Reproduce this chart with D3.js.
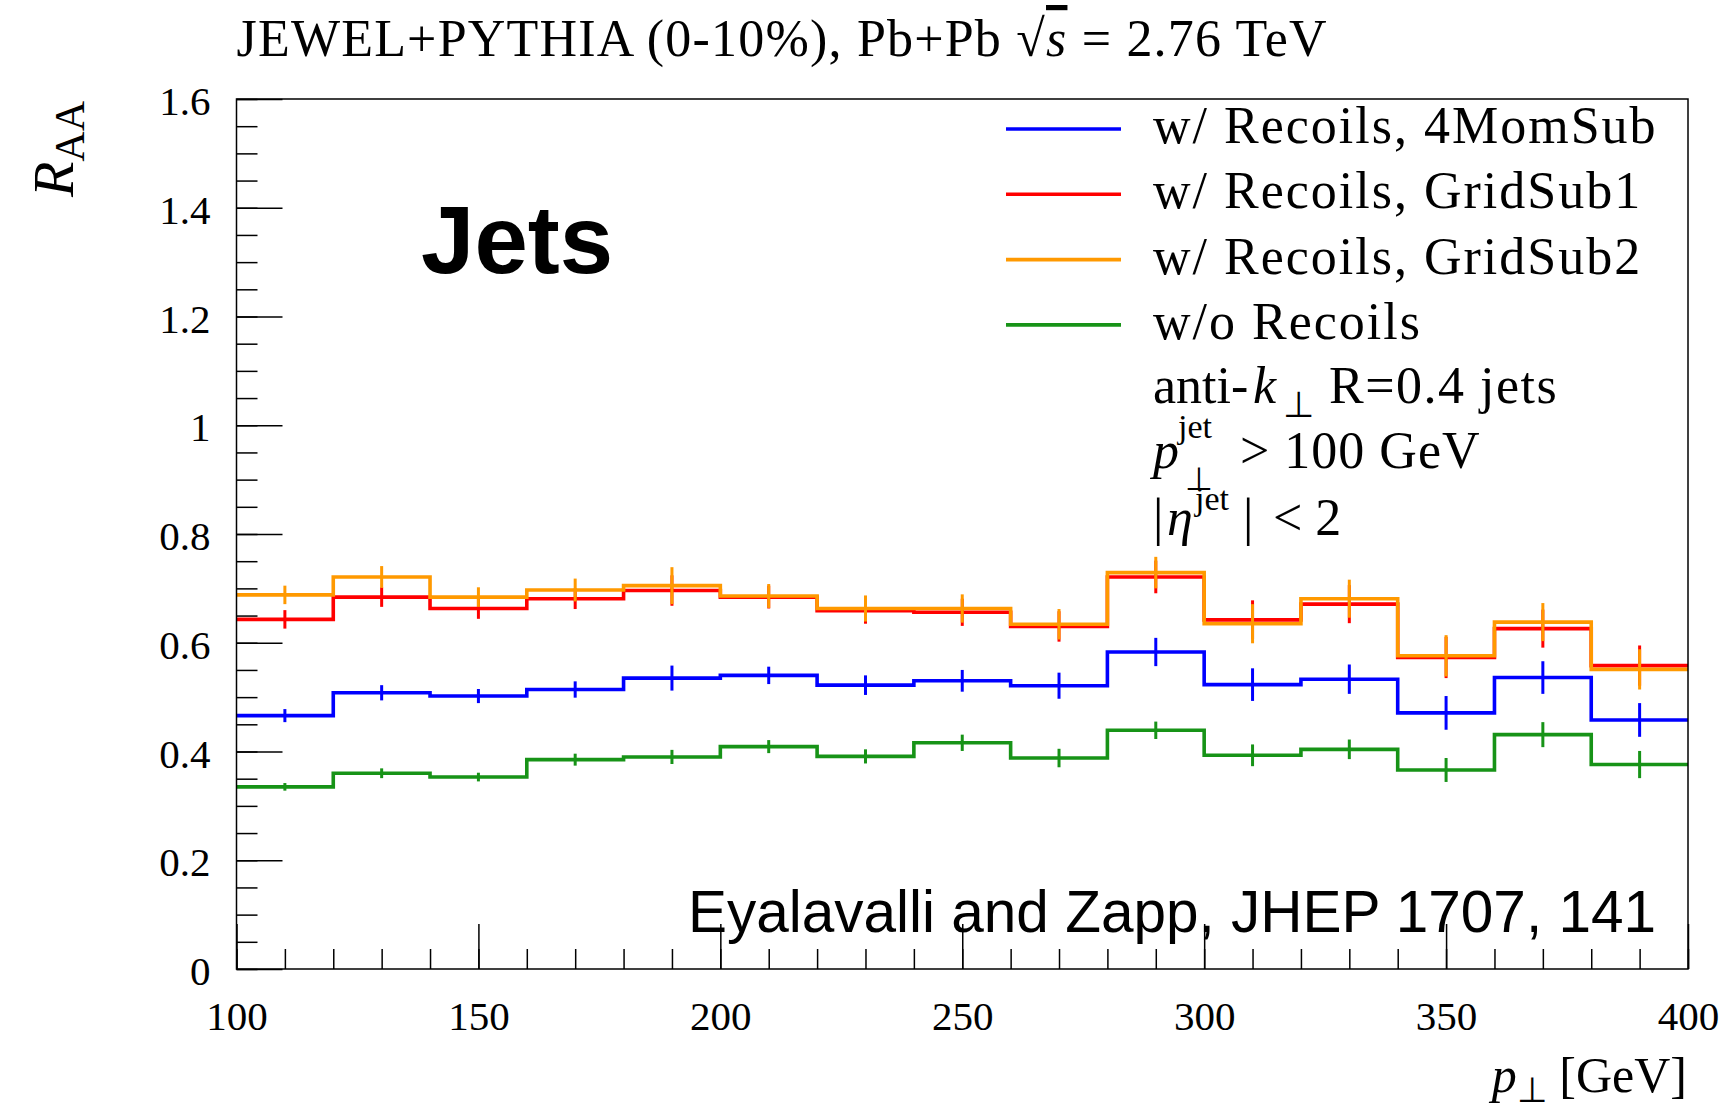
<!DOCTYPE html>
<html>
<head>
<meta charset="utf-8">
<script src="https://cdn.jsdelivr.net/npm/d3@7"></script>
<style>
  body { margin: 0; background: #fff; }
  .serif { font-family: "Liberation Serif", "Times New Roman", serif; }
  .sans { font-family: "Liberation Sans", Arial, sans-serif; }
</style>
</head>
<body>
<div id="chart"></div>
<script>
/* JEWEL R_AA histogram */

// bins in p_T [GeV]
const binEdges = [100, 120, 140, 160, 180, 200, 220, 240, 260, 280, 300, 320, 340, 360, 380, 400];

// R_AA per bin
const recoil4Mom = [0.466, 0.508, 0.502, 0.514, 0.535, 0.540, 0.522, 0.530, 0.521, 0.583, 0.523, 0.533, 0.471, 0.536, 0.458];
const recoil4MomErr = [0.012, 0.014, 0.013, 0.015, 0.023, 0.016, 0.018, 0.020, 0.024, 0.026, 0.030, 0.027, 0.031, 0.030, 0.031];
const recoilGrid1 = [0.643, 0.684, 0.663, 0.681, 0.696, 0.684, 0.659, 0.656, 0.630, 0.721, 0.642, 0.671, 0.573, 0.626, 0.558];
const recoilGrid1Err = [0.017, 0.018, 0.019, 0.019, 0.028, 0.021, 0.024, 0.025, 0.028, 0.030, 0.036, 0.035, 0.038, 0.035, 0.037];
const recoilGrid2 = [0.688, 0.721, 0.684, 0.697, 0.705, 0.686, 0.663, 0.663, 0.634, 0.729, 0.635, 0.681, 0.576, 0.638, 0.551];
const recoilGrid2Err = [0.017, 0.020, 0.018, 0.021, 0.034, 0.022, 0.024, 0.026, 0.028, 0.029, 0.036, 0.035, 0.038, 0.035, 0.037];
const noRecoil = [0.335, 0.360, 0.353, 0.385, 0.390, 0.409, 0.391, 0.416, 0.388, 0.439, 0.393, 0.404, 0.366, 0.431, 0.376];
const noRecoilErr = [0.007, 0.009, 0.008, 0.011, 0.013, 0.012, 0.013, 0.015, 0.017, 0.016, 0.020, 0.018, 0.022, 0.023, 0.025];

const legendLabels = ["w/ Recoils, 4MomSub", "w/ Recoils, GridSub1", "w/ Recoils, GridSub2", "w/o Recoils"];
const xTicks = [100, 150, 200, 250, 300, 350, 400];
const yTicks = [0, 0.2, 0.4, 0.6, 0.8, 1, 1.2, 1.4, 1.6];

const series = [
  {vals: recoil4Mom, errs: recoil4MomErr, color: "#0000ff"},
  {vals: recoilGrid1, errs: recoilGrid1Err, color: "#ff0000"},
  {vals: recoilGrid2, errs: recoilGrid2Err, color: "#ff9900"},
  {vals: noRecoil, errs: noRecoilErr, color: "#179317"}
];

const margin = {top: 99, right: 39, bottom: 140, left: 236.5},
width = 1727 - margin.left - margin.right,
height = 1109 - margin.top - margin.bottom;

const svg = d3.select("#chart")
.append("svg")
.attr("width", 1727)
.attr("height", 1109);
const g = svg.append("g")
.attr("transform", "translate(" + margin.left + "," + margin.top + ")");

const x = d3.scaleLinear().domain([100, 400]).range([0, width]);
const y = d3.scaleLinear().domain([0, 1.6]).range([height, 0]);

// citation text sits under the ticks
g.append("text")
  .attr("class", "sans")
  .attr("x", 1656 - margin.left)
  .attr("y", 932 - margin.top)
  .attr("text-anchor", "end")
  .attr("font-size", 58.5)
  .text("Eyalavalli and Zapp, JHEP 1707, 141");

g.append("text")
  .attr("class", "sans")
  .attr("x", 421 - margin.left)
  .attr("y", 273 - margin.top)
  .attr("font-size", 96)
  .attr("font-weight", "bold")
  .text("Jets");

// minor ticks
g.append("g")
  .attr("transform", "translate(0," + height + ")")
  .call(d3.axisBottom(x).ticks(30).tickSize(-20).tickFormat(""))
  .call(a => a.select(".domain").remove());
g.append("g")
  .call(d3.axisLeft(y).ticks(32).tickSize(-21).tickFormat(""))
  .call(a => a.select(".domain").remove());

// major ticks
const xApp = g.append("g")
  .attr("transform", "translate(0," + height + ")")
  .call(d3.axisBottom(x).tickValues(xTicks).tickSize(-45).tickPadding(0).tickFormat(d3.format("d")));
xApp.select(".domain").remove();
xApp.selectAll("text")
  .attr("class", "serif")
  .attr("font-size", 41)
  .attr("fill", "#000")
  .attr("dy", null)
  .attr("y", 61);

const yApp = g.append("g")
  .call(d3.axisLeft(y).tickValues(yTicks).tickSize(-46).tickPadding(26).tickFormat(d => d3.format("~g")(d)));
yApp.select(".domain").remove();
yApp.selectAll("text")
  .attr("class", "serif")
  .attr("font-size", 41)
  .attr("fill", "#000")
  .attr("dy", "0.38em");

g.selectAll(".tick line").attr("stroke", "#000").attr("stroke-width", 1.5);

// histograms
const line = d3.line()
  .x(d => x(d[0]))
  .y(d => y(d[1]))
  .curve(d3.curveStepAfter);

series.forEach(s => {
  const pts = s.vals.map((v, i) => [binEdges[i], v]);
  pts.push([binEdges[binEdges.length - 1], s.vals[s.vals.length - 1]]);
  const sg = g.append("g");
  sg.append("path")
    .attr("d", line(pts))
    .attr("fill", "none")
    .attr("stroke", s.color)
    .attr("stroke-width", 3.6);
  sg.selectAll("line")
    .data(s.vals)
    .join("line")
    .attr("x1", (d, i) => x((binEdges[i] + binEdges[i + 1]) / 2))
    .attr("x2", (d, i) => x((binEdges[i] + binEdges[i + 1]) / 2))
    .attr("y1", (d, i) => y(d - s.errs[i]))
    .attr("y2", (d, i) => y(d + s.errs[i]))
    .attr("stroke", s.color)
    .attr("stroke-width", 3);
});

// frame
g.append("rect")
  .attr("width", width)
  .attr("height", height)
  .attr("fill", "none")
  .attr("stroke", "#000")
  .attr("stroke-width", 1.5);

// legend
const leg = svg.append("g").attr("class", "serif");
legendLabels.forEach((lab, i) => {
  const yy = 129 + i * 65.3;
  leg.append("line")
    .attr("x1", 1006).attr("x2", 1121)
    .attr("y1", yy).attr("y2", yy)
    .attr("stroke", series[i].color)
    .attr("stroke-width", 3.6);
  leg.append("text")
    .attr("x", 1153)
    .attr("y", yy + 14)
    .attr("font-size", 52)
    .attr("letter-spacing", 2)
    .text(lab);
});

// cut info
const t1 = leg.append("text").attr("font-size", 52).attr("y", 403);
t1.append("tspan").attr("x", 1153).text("anti-");
t1.append("tspan").attr("x", 1253).attr("font-style", "italic").text("k");
t1.append("tspan").attr("x", 1283).attr("y", 417).attr("font-size", 36).text("⊥");
t1.append("tspan").attr("x", 1329).attr("y", 403).attr("letter-spacing", 1.5).text("R=0.4 jets");

const t2 = leg.append("text").attr("font-size", 52).attr("y", 468);
t2.append("tspan").attr("x", 1153).attr("font-style", "italic").text("p");
t2.append("tspan").attr("x", 1178).attr("y", 438).attr("font-size", 34).text("jet");
t2.append("tspan").attr("x", 1185).attr("y", 490).attr("font-size", 32).text("⊥");
t2.append("tspan").attr("x", 1240).attr("y", 468).attr("letter-spacing", 1).text("> 100 GeV");

const t3 = leg.append("text").attr("font-size", 52).attr("y", 535);
t3.append("tspan").attr("x", 1153).text("|");
t3.append("tspan").attr("x", 1167).attr("font-style", "italic").text("η");
t3.append("tspan").attr("x", 1195).attr("y", 510).attr("font-size", 34).text("jet");
t3.append("tspan").attr("x", 1243).attr("y", 535).text("|");
t3.append("tspan").attr("x", 1273).text("< 2");

// title
const title = svg.append("text")
  .attr("class", "serif")
  .attr("x", 236.5)
  .attr("y", 56)
  .attr("font-size", 52)
  .attr("letter-spacing", 1.2);
title.append("tspan").text("JEWEL+PYTHIA (0-10%), Pb+Pb ");
title.append("tspan").text("√");
title.append("tspan").attr("font-style", "italic").style("text-decoration", "overline").text("s");
title.append("tspan").text(" = 2.76 TeV");

// axis labels
const xl = svg.append("text")
  .attr("class", "serif")
  .attr("x", 1687)
  .attr("y", 1092)
  .attr("text-anchor", "end")
  .attr("font-size", 50);
xl.append("tspan").attr("font-style", "italic").text("p");
xl.append("tspan").attr("font-size", 35).attr("dy", 10).text("⊥");
xl.append("tspan").attr("dy", -10).text(" [GeV]");

const yl = svg.append("text")
  .attr("class", "serif")
  .attr("transform", "translate(73,101) rotate(-90)")
  .attr("text-anchor", "end")
  .attr("font-size", 58);
yl.append("tspan").attr("font-style", "italic").text("R");
yl.append("tspan").attr("font-size", 42).attr("dy", 11).text("AA");
</script>
</body>
</html>
